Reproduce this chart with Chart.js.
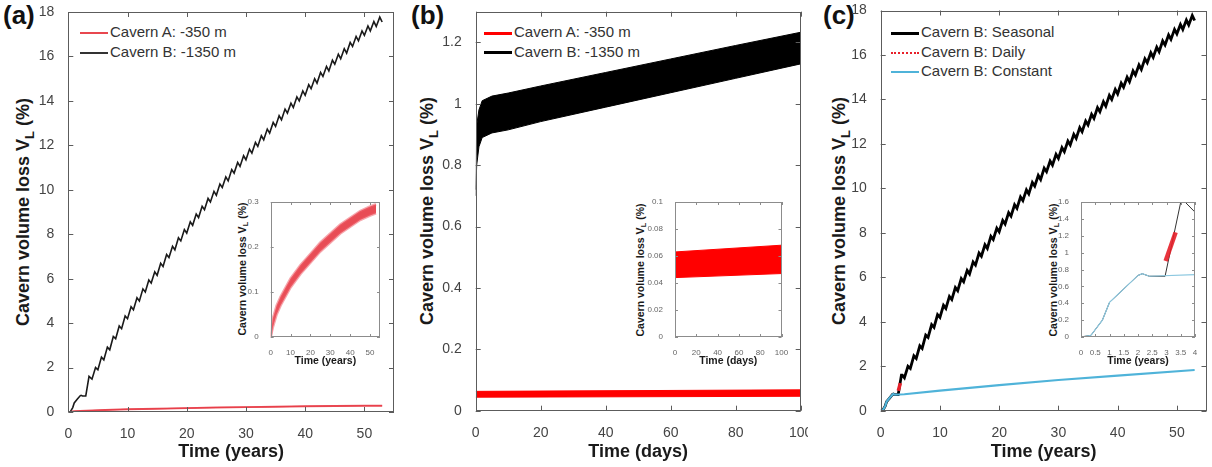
<!DOCTYPE html>
<html>
<head>
<meta charset="utf-8">
<script src="https://cdn.jsdelivr.net/npm/chart.js@4.4.1/dist/chart.umd.min.js"></script>
<style>
  html, body { margin: 0; padding: 0; background: #fff; }
  body { width: 1212px; height: 467px; position: relative; overflow: hidden;
         font-family: "Liberation Sans", Arial, Helvetica, sans-serif; }
  canvas { position: absolute; }
  .lab { position: absolute; font-weight: bold; font-size: 26px; line-height: 1; color: #111; }
  .ytitle { position: absolute; font-weight: bold; white-space: nowrap; color: #1a1a1a; line-height: 1;
            transform: translate(-50%, -50%) rotate(-90deg); }
  .ytitle sub { font-size: 72%; vertical-align: -0.35em; line-height: 0; }
  .leg { position: absolute; font-size: 15px; color: #333; }
  .leg div { height: 19.5px; line-height: 19.5px; white-space: nowrap; }
  .leg span { display: inline-block; width: 28px; vertical-align: middle; margin-right: 2px; }
</style>
</head>
<body>

<div class="lab" style="left:3px;top:2px">(a)</div>
<div class="lab" style="left:411px;top:2px">(b)</div>
<div class="lab" style="left:823px;top:2px">(c)</div>

<div class="ytitle" style="left:23px;top:212px;font-size:18px">Cavern volume loss V<sub>L</sub> (%)</div>
<div class="ytitle" style="left:427px;top:211px;font-size:18px">Cavern volume loss V<sub>L</sub> (%)</div>
<div class="ytitle" style="left:839px;top:211px;font-size:18px">Cavern volume loss V<sub>L</sub> (%)</div>
<div class="ytitle" style="left:242px;top:269px;font-size:10.5px">Cavern volume loss V<sub>L</sub> (%)</div>
<div class="ytitle" style="left:640px;top:270px;font-size:10.5px">Cavern volume loss V<sub>L</sub> (%)</div>
<div class="ytitle" style="left:1053px;top:270px;font-size:10.5px">Cavern volume loss V<sub>L</sub> (%)</div>

<div class="leg" style="left:80px;top:22px">
  <div><span style="border-top:2px solid #e8474f"></span>Cavern A: -350 m</div>
  <div><span style="border-top:2px solid #333"></span>Cavern B: -1350 m</div>
</div>
<div class="leg" style="left:484px;top:22px">
  <div><span style="border-top:3px solid #ff0000"></span>Cavern A: -350 m</div>
  <div><span style="border-top:3px solid #000"></span>Cavern B: -1350 m</div>
</div>
<div class="leg" style="left:891px;top:22px">
  <div><span style="border-top:3px solid #000"></span>Cavern B: Seasonal</div>
  <div><span style="border-top:2px dotted #e8202a"></span>Cavern B: Daily</div>
  <div><span style="border-top:2px solid #4fb3d9"></span>Cavern B: Constant</div>
</div>

<script>
const FONT = '"Liberation Sans", Arial, Helvetica, sans-serif';

// Cavern B, seasonal cycling (years, %)
const seasonalYears = [
  0, 0.35, 0.75, 1.0, 1.5, 2.0, 2.15, 2.4, 2.95, 3.5, 3.65, 4.0,
  4.6, 5, 5.6, 6, 6.6, 7, 7.6, 8, 8.6, 9, 9.6, 10,
  10.6, 11, 11.6, 12, 12.6, 13, 13.6, 14, 14.6, 15, 15.6, 16,
  16.6, 17, 17.6, 18, 18.6, 19, 19.6, 20, 20.6, 21, 21.6, 22,
  22.6, 23, 23.6, 24, 24.6, 25, 25.6, 26, 26.6, 27, 27.6, 28,
  28.6, 29, 29.6, 30, 30.6, 31, 31.6, 32, 32.6, 33, 33.6, 34,
  34.6, 35, 35.6, 36, 36.6, 37, 37.6, 38, 38.6, 39, 39.6, 40,
  40.6, 41, 41.6, 42, 42.6, 43, 43.6, 44, 44.6, 45, 45.6, 46,
  46.6, 47, 47.6, 48, 48.6, 49, 49.6, 50, 50.6, 51, 51.6, 52,
  52.6, 53
];
const seasonalVL = [
  0, 0.02, 0.2, 0.41, 0.57, 0.73, 0.75, 0.72, 0.72, 1.6, 1.6, 1.48,
  2.0, 1.9, 2.47, 2.35, 2.92, 2.8, 3.4, 3.3, 3.87, 3.75, 4.32, 4.2,
  4.74, 4.6, 5.14, 5.0, 5.54, 5.4, 5.94, 5.8, 6.31, 6.15, 6.69, 6.55,
  7.09, 6.95, 7.46, 7.3, 7.84, 7.7, 8.21, 8.05, 8.56, 8.4, 8.91, 8.75,
  9.26, 9.1, 9.61, 9.45, 9.93, 9.75, 10.26, 10.1, 10.58, 10.4, 10.91, 10.75,
  11.23, 11.05, 11.53, 11.35, 11.83, 11.65, 12.13, 11.95, 12.43, 12.25, 12.73, 12.55,
  13.03, 12.85, 13.33, 13.15, 13.63, 13.45, 13.9, 13.7, 14.18, 14.0, 14.45, 14.25,
  14.73, 14.55, 15.0, 14.8, 15.28, 15.1, 15.55, 15.35, 15.83, 15.65, 16.1, 15.9,
  16.35, 16.15, 16.63, 16.45, 16.9, 16.7, 17.15, 16.95, 17.37, 17.15, 17.57, 17.35,
  17.77, 17.55
];

// Cavern A, seasonal cycling: band edges (years, %)
const cavernAYears = [0, 1, 3, 5, 10, 15, 20, 25, 30, 35, 40, 45, 50, 53];
const cavernALow   = [0, 0.02, 0.05, 0.07, 0.11, 0.14, 0.165, 0.19, 0.21, 0.23, 0.245, 0.26, 0.27, 0.275];
const cavernAHigh  = [0, 0.04, 0.07, 0.09, 0.13, 0.16, 0.185, 0.21, 0.23, 0.25, 0.265, 0.28, 0.29, 0.295];

// Daily cycling over 100 days: band edges (days, %)
const dailyBDays = [0, 0.3, 1, 2, 5, 10, 20, 40, 60, 80, 100];
const dailyBLow  = [0.70, 0.80, 0.86, 0.89, 0.905, 0.915, 0.942, 0.989, 1.036, 1.083, 1.13];
const dailyBHigh = [0.72, 0.93, 0.98, 1.01, 1.025, 1.035, 1.058, 1.102, 1.146, 1.19, 1.233];
const dailyADays = [0, 100];
const dailyALow  = [0.044, 0.047];
const dailyAHigh = [0.063, 0.068];

// (c) Cavern B, constant and daily
const constantYears = [0, 0.35, 0.75, 1.0, 1.5, 2.0, 2.15, 2.4, 4, 10, 20, 30, 40, 53];
const constantVL    = [0, 0.02, 0.2, 0.41, 0.57, 0.73, 0.75, 0.72, 0.74, 0.9, 1.15, 1.38, 1.58, 1.83];
const dailyCYears = [2.97, 3.32];
const dailyCVL    = [0.9, 1.24];

// tick labels
const ticksYears   = [0, 10, 20, 30, 40, 50];
const ticksDays    = [0, 20, 40, 60, 80, 100];
const ticksVL18    = [0, 2, 4, 6, 8, 10, 12, 14, 16, 18];
const ticksVL12    = [0, 0.2, 0.4, 0.6, 0.8, 1, 1.2];
const ticksInsetA  = [0, 0.1, 0.2, 0.3];
const ticksInsetB  = [0, 0.02, 0.04, 0.06, 0.08, 0.1];
const ticksInsetCx = [0, 0.5, 1, 1.5, 2, 2.5, 3, 3.5, 4];
const ticksInsetCy = [0, 0.2, 0.4, 0.6, 0.8, 1, 1.2, 1.4, 1.6];

const pts = (xs, ys) => xs.map((x, i) => ({ x, y: ys[i] }));
const fmt = v => String(Math.round(v * 1000) / 1000);

function line(data, color, width, extra = {}) {
  return { data, borderColor: color, borderWidth: width, pointRadius: 0, tension: 0, fill: false, ...extra };
}

// box around the axes with inward ticks, MATLAB style
const boxAxes = {
  id: 'boxAxes',
  beforeDraw(chart, args, opts) {
    if (!opts.fill) return;
    const a = chart.chartArea, ctx = chart.ctx;
    ctx.save();
    ctx.fillStyle = '#fff';
    ctx.fillRect(a.left, a.top, a.width, a.height);
    ctx.restore();
  },
  afterDraw(chart, args, opts) {
    const { ctx, chartArea: a, scales: { x, y } } = chart;
    const L = opts.tick;
    ctx.save();
    ctx.strokeStyle = opts.color;
    ctx.lineWidth = 1;
    ctx.beginPath();
    x.ticks.forEach(t => {
      const p = Math.round(x.getPixelForValue(t.value)) + 0.5;
      ctx.moveTo(p, a.bottom); ctx.lineTo(p, a.bottom - L);
      ctx.moveTo(p, a.top); ctx.lineTo(p, a.top + L);
    });
    y.ticks.forEach(t => {
      const p = Math.round(y.getPixelForValue(t.value)) + 0.5;
      ctx.moveTo(a.left, p); ctx.lineTo(a.left + L, p);
      ctx.moveTo(a.right, p); ctx.lineTo(a.right - L, p);
    });
    ctx.stroke();
    ctx.strokeRect(Math.round(a.left) + 0.5, Math.round(a.top) + 0.5,
                   Math.round(a.width) - 1, Math.round(a.height) - 1);
    ctx.restore();
  }
};

function plot(box, area, datasets, x, y, small) {
  const cv = document.createElement('canvas');
  cv.width = box.w; cv.height = box.h;
  cv.style.left = box.x + 'px'; cv.style.top = box.y + 'px';
  document.body.appendChild(cv);

  const tickFont = { family: FONT, size: small ? 8 : 14 };
  const titleFont = { family: FONT, size: small ? 10.5 : 18, weight: 'bold' };
  const tickColor = small ? '#666' : '#444';
  const yW = area.l - box.x;
  const xH = box.y + box.h - area.b;

  return new Chart(cv.getContext('2d'), {
    type: 'line',
    data: { datasets },
    options: {
      responsive: false,
      animation: false,
      events: [],
      layout: { padding: { left: 0, top: area.t - box.y, right: box.x + box.w - area.r, bottom: 0 } },
      plugins: {
        legend: { display: false },
        tooltip: { enabled: false },
        boxAxes: { tick: small ? 3 : 5, color: small ? '#8c8c8c' : '#5c5c5c', fill: small }
      },
      scales: {
        x: {
          type: 'linear', min: x.min, max: x.max,
          grid: { display: false }, border: { display: false },
          ticks: { font: tickFont, color: tickColor, padding: small ? 3 : 6,
                   autoSkip: false, maxRotation: 0, callback: fmt },
          title: { display: true, text: x.title, font: titleFont, color: '#1a1a1a',
                   padding: { top: 0, bottom: 4.2 } },
          afterBuildTicks: s => { s.ticks = x.ticks.map(v => ({ value: v })); },
          afterFit: s => { s.height = xH; s.paddingLeft = 0; s.paddingRight = 0; }
        },
        y: {
          type: 'linear', min: y.min, max: y.max,
          grid: { display: false }, border: { display: false },
          ticks: { font: tickFont, color: tickColor, padding: small ? 4 : 6,
                   autoSkip: false, callback: fmt },
          afterBuildTicks: s => { s.ticks = y.ticks.map(v => ({ value: v })); },
          afterFit: s => { s.width = yW; s.paddingTop = 0; s.paddingBottom = 0; }
        }
      }
    },
    plugins: [boxAxes]
  });
}

// (a) 53 years, two caverns
plot({ x: 0, y: 0, w: 404, h: 467 }, { l: 68.3, t: 12, r: 394, b: 412 }, [
  line(pts(cavernAYears, cavernALow), 'rgba(232,60,70,0.85)', 1.5),
  line(pts(cavernAYears, cavernAHigh), 'rgba(232,60,70,0.85)', 1.5,
       { fill: '-1', backgroundColor: 'rgba(232,60,70,0.85)' }),
  line(pts(seasonalYears, seasonalVL), '#1a1a1a', 1.6)
], { min: 0, max: 55, ticks: ticksYears, title: 'Time (years)' },
   { min: 0, max: 18, ticks: ticksVL18 }, false);

// (b) 100 days, daily cycling
plot({ x: 404, y: 0, w: 404, h: 467 }, { l: 475.7, t: 11.7, r: 800.7, b: 410.7 }, [
  line(pts(dailyADays, dailyALow), '#ff0000', 1),
  line(pts(dailyADays, dailyAHigh), '#ff0000', 1, { fill: '-1', backgroundColor: '#ff0000' }),
  line(pts(dailyBDays, dailyBLow), '#000', 1),
  line(pts(dailyBDays, dailyBHigh), '#000', 1, { fill: '-1', backgroundColor: '#000' })
], { min: 0, max: 100, ticks: ticksDays, title: 'Time (days)' },
   { min: 0, max: 1.3, ticks: ticksVL12 }, false);

// (c) Cavern B, three loading cases
plot({ x: 808, y: 0, w: 404, h: 467 }, { l: 880.7, t: 10.5, r: 1206.5, b: 410.7 }, [
  line(pts(dailyCYears, dailyCVL), '#e8202a', 3.5),
  line(pts(constantYears, constantVL), '#4fb3d9', 2.2),
  line(pts(seasonalYears, seasonalVL), '#000', 2.8)
], { min: 0, max: 55, ticks: ticksYears, title: 'Time (years)' },
   { min: 0, max: 18, ticks: ticksVL18 }, false);

// insets
plot({ x: 222, y: 190, w: 168, h: 182 }, { l: 270.7, t: 202, r: 380, b: 337 }, [
  line(pts(cavernAYears, cavernALow), 'rgba(238,95,105,0.55)', 2.5),
  line(pts(cavernAYears, cavernAHigh), 'rgba(238,95,105,0.55)', 2.5,
       { fill: '-1', backgroundColor: 'rgba(228,45,55,0.85)' })
], { min: 0, max: 55, ticks: ticksYears, title: 'Time (years)' },
   { min: 0, max: 0.3, ticks: ticksInsetA }, true);

plot({ x: 622, y: 190, w: 170, h: 182 }, { l: 675, t: 202, r: 781.5, b: 337 }, [
  line(pts(dailyADays, dailyALow), '#ff0000', 1),
  line(pts(dailyADays, dailyAHigh), '#ff0000', 1, { fill: '-1', backgroundColor: '#ff0000' })
], { min: 0, max: 100, ticks: ticksDays, title: 'Time (days)' },
   { min: 0, max: 0.1, ticks: ticksInsetB }, true);

plot({ x: 1030, y: 190, w: 176, h: 182 }, { l: 1081, t: 202, r: 1195, b: 337 }, [
  line(pts(dailyCYears, dailyCVL), 'rgba(230,30,40,0.9)', 4.5),
  line(pts(constantYears, constantVL), '#8cc8e0', 1.2),
  line(pts(seasonalYears, seasonalVL), '#333', 1)
], { min: 0, max: 4, ticks: ticksInsetCx, title: 'Time (years)' },
   { min: 0, max: 1.6, ticks: ticksInsetCy }, true);
</script>
</body>
</html>
